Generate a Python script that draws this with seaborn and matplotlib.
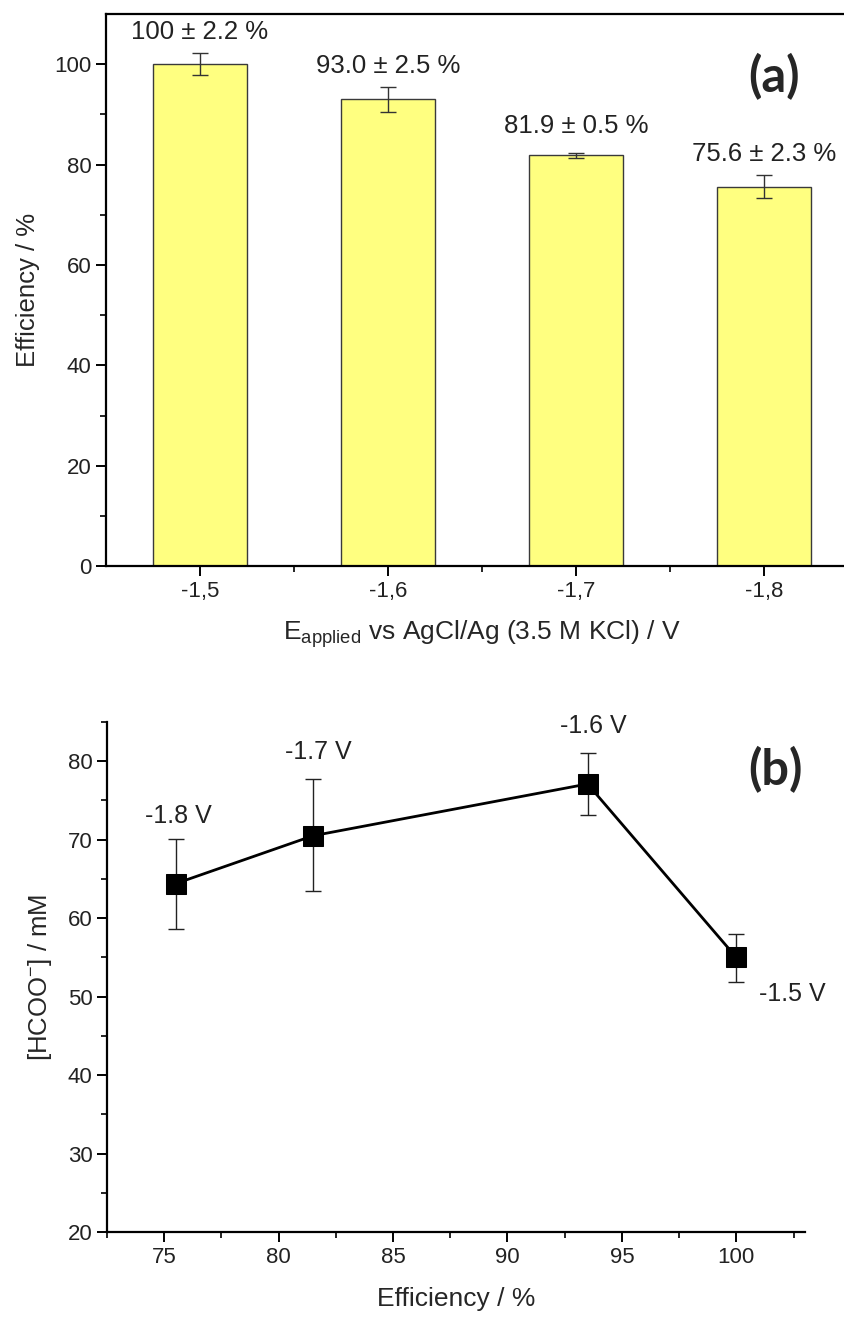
import numpy as np
import pandas as pd
import matplotlib
matplotlib.use("Agg")
import matplotlib.pyplot as plt
import seaborn as sns

# panel (a) data
potentials = ['-1,5', '-1,6', '-1,7', '-1,8']
efficiency = [100.0, 93.0, 81.9, 75.6]
eff_err = [2.2, 2.5, 0.5, 2.3]
eff_labels = ['100 ± 2.2 %', '93.0 ± 2.5 %', '81.9 ± 0.5 %', '75.6 ± 2.3 %']

# panel (b) data
eff_b = [75.5, 81.5, 93.5, 100.0]
formate = [64.4, 70.5, 77.1, 55.0]
formate_err_up = [5.7, 7.2, 3.9, 3.0]
formate_err_dn = [5.8, 7.0, 3.9, 3.1]
volt_labels = ['-1.8 V', '-1.7 V', '-1.6 V', '-1.5 V']

sns.set_style('ticks')
plt.rcParams['font.family'] = ['Liberation Sans', 'DejaVu Sans']
plt.rcParams['mathtext.fontset'] = 'custom'
plt.rcParams['mathtext.rm'] = 'Liberation Sans'
plt.rcParams['mathtext.it'] = 'Liberation Sans'

fig = plt.figure(figsize=(8.45, 13.17), dpi=100)

# ---- (a) bar chart
ax1 = fig.add_axes([0.1254, 0.5702, 0.890, 0.4191])
df_a = pd.DataFrame({'E': potentials, 'Eff': efficiency})
sns.barplot(data=df_a, x='E', y='Eff', color='#FFFF80', edgecolor='#3a3a3a',
            linewidth=1.0, width=0.5, errorbar=None, saturation=1, ax=ax1)
xpos = np.arange(len(potentials))
ax1.errorbar(xpos, efficiency, yerr=eff_err, fmt='none', ecolor='#333333',
             elinewidth=1.0, capsize=6, capthick=1.0)
label_off = [15, 15, 19, 15]
for x, v, e, lab, off in zip(xpos, efficiency, eff_err, eff_labels, label_off):
    ax1.annotate(lab, (x, v + e), xytext=(0, off), textcoords='offset points',
                 ha='center', va='center', fontsize=18.5, color='#222222')
ax1.set_xlim(-0.5, 3.5)
ax1.set_ylim(0, 110)
ax1.set_yticks(np.arange(0, 101, 20))
ax1.set_yticks(np.arange(10, 110, 20), minor=True)
ax1.set_xticks(xpos[:-1] + 0.5, minor=True)
ax1.set_ylabel('Efficiency / %', fontsize=18.5, labelpad=10)
ax1.set_xlabel(r'E$_{\mathregular{applied}}$ vs AgCl/Ag (3.5 M KCl) / V', fontsize=19, labelpad=12)
ax1.text(0.888, 0.886, '(a)', transform=ax1.transAxes, fontsize=35, fontweight='bold',
         family=['Lato', 'DejaVu Sans'], ha='center', va='center')

# ---- (b) line chart
ax2 = fig.add_axes([0.1266, 0.0645, 0.826, 0.3873])
df_b = pd.DataFrame({'Eff': eff_b, 'HCOO': formate})
sns.lineplot(data=df_b, x='Eff', y='HCOO', color='black', linewidth=2.0,
             marker='s', markersize=14, markeredgecolor='black', ax=ax2, zorder=3)
ax2.errorbar(eff_b, formate, yerr=[formate_err_dn, formate_err_up], fmt='none',
             ecolor='#222222', elinewidth=1.0, capsize=6, capthick=1.0, zorder=2)
offsets = [(2, 16.5), (4, 19.5), (4, 20), (40, -43)]
tops = [f + u for f, u in zip(formate, formate_err_up)]
for x, t, lab, off in zip(eff_b, tops, volt_labels, offsets):
    ax2.annotate(lab, (x, t), xytext=off, textcoords='offset points',
                 ha='center', va='center', fontsize=18, color='#222222')
ax2.set_xlim(72.5, 103)
ax2.set_ylim(20, 85)
ax2.set_xticks(np.arange(75, 101, 5))
ax2.set_xticks(np.arange(72.5, 103, 5), minor=True)
ax2.set_yticks(np.arange(20, 81, 10))
ax2.set_yticks(np.arange(25, 86, 10), minor=True)
ax2.set_xlabel('Efficiency / %', fontsize=19, labelpad=14)
ax2.set_ylabel(r'[HCOO$^{\mathregular{-}}$] / mM', fontsize=18.5, labelpad=10)
ax2.text(0.958, 0.906, '(b)', transform=ax2.transAxes, fontsize=35, fontweight='bold',
         family=['Lato', 'DejaVu Sans'], ha='center', va='center')
sns.despine(ax=ax2)

for ax in (ax1, ax2):
    for s in ax.spines.values():
        s.set_linewidth(1.6)
        s.set_color('black')
    ax.tick_params(which='major', direction='out', length=7, width=1.4,
                   labelsize=16, colors='black', labelcolor='#222222')
    ax.tick_params(which='minor', direction='out', length=4, width=1.2, colors='black')
    ax.grid(False)

fig.savefig('out.png', dpi=100)
